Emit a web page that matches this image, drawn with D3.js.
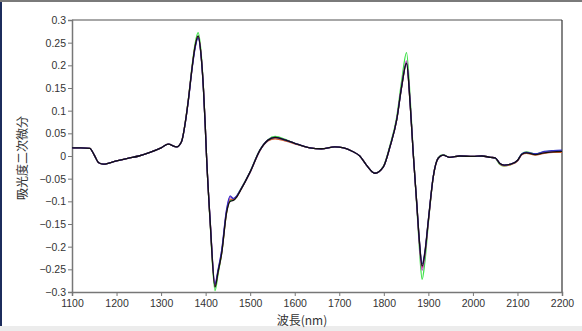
<!DOCTYPE html>
<html>
<head>
<meta charset="utf-8">
<script src="https://cdn.jsdelivr.net/npm/d3@7"></script>
<style>
  html, body { margin: 0; padding: 0; background: #fff; }
  body { width: 582px; height: 331px; overflow: hidden; position: relative; }
  .frame-left { position: absolute; left: 0; top: 0; width: 2px; height: 331px; background: #1c2c5c; }
  .frame-top { position: absolute; left: 0; top: 0; width: 582px; height: 2px; background: #7a7a7a; }
  .frame-bottom { position: absolute; left: 0; top: 326px; width: 582px; height: 5px; background: #ececec; }
  svg text { font-family: "Liberation Sans Narrow", "Liberation Sans", Arial, sans-serif; fill: #333; }
</style>
</head>
<body>
<div class="frame-left"></div>
<div class="frame-top"></div>
<div class="frame-bottom"></div>
<div class="chart"></div>
<script>
// wavelength (nm)
const wavelengths = [1100,1120,1140,1150,1160, 1170,1185,1200,1225,1250, 1275,1300,1316,1335,1346,
  1354,1362,1369,1376,1383, 1390,1395,1399,1402,1410, 1421,1428,1436,1447,1455,
  1462,1470,1477,1500,1522, 1540,1556,1580,1600,1634, 1660,1690,1710,1730,1746,
  1761,1780,1799,1814,1829, 1840,1851,1859,1866,1874, 1880,1886,1892,1900,1911,
  1922,1933,1948,1970,2000, 2020,2040,2050,2060,2070, 2085,2100,2110,2120,2140,
  2160,2180,2200];

// second derivative spectra, one array per sample
const sampleGreen = [0.018,0.018,0.017,0.002,-0.015, -0.018,-0.015,-0.011,-0.005,0.0,
  0.008,0.018,0.026,0.02,0.032, 0.073,0.132,0.194,0.245,0.272,
  0.226,0.152,0.07,0.0,-0.145, -0.297,-0.26,-0.214,-0.124,-0.098,
  -0.097,-0.088,-0.076,-0.034,0.014, 0.036,0.043,0.036,0.028,0.018,
  0.016,0.02,0.018,0.01,0.0, -0.02,-0.038,-0.023,0.024,0.086,
  0.165,0.228,0.13,0.01,-0.11, -0.205,-0.272,-0.235,-0.148,-0.046,
  -0.004,0.003,-0.003,0.0,-0.001, 0.0,-0.003,-0.005,-0.018,-0.022,
  -0.019,-0.01,0.005,0.009,0.005, 0.009,0.011,0.012];
const sampleRed = [0.018,0.018,0.017,0.002,-0.015, -0.018,-0.015,-0.011,-0.005,0.0,
  0.008,0.018,0.026,0.02,0.032, 0.072,0.13,0.19,0.24,0.264,
  0.22,0.15,0.07,0.0,-0.142, -0.287,-0.255,-0.214,-0.125,-0.095,
  -0.096,-0.09,-0.078,-0.036,0.012, 0.033,0.038,0.033,0.027,0.018,
  0.016,0.02,0.018,0.01,0.0, -0.02,-0.038,-0.024,0.021,0.08,
  0.152,0.204,0.116,0.006,-0.105, -0.19,-0.246,-0.217,-0.143,-0.046,
  -0.005,0.002,-0.003,0.0,-0.001, 0.0,-0.003,-0.004,-0.017,-0.022,
  -0.019,-0.011,0.003,0.006,0.002, 0.006,0.008,0.008];
const sampleMagenta = [0.018,0.018,0.017,0.002,-0.015, -0.018,-0.015,-0.011,-0.005,0.0,
  0.008,0.018,0.026,0.02,0.032, 0.072,0.13,0.19,0.238,0.262,
  0.22,0.15,0.07,0.0,-0.14, -0.284,-0.253,-0.21,-0.12,-0.09,
  -0.094,-0.088,-0.077,-0.035,0.013, 0.035,0.041,0.035,0.028,0.018,
  0.016,0.02,0.018,0.01,0.0, -0.02,-0.038,-0.024,0.021,0.081,
  0.155,0.21,0.12,0.006,-0.108, -0.195,-0.252,-0.22,-0.144,-0.046,
  -0.005,0.002,-0.003,0.0,-0.001, 0.0,-0.003,-0.004,-0.016,-0.02,
  -0.018,-0.01,0.004,0.008,0.004, 0.008,0.01,0.011];
const sampleBlue = [0.018,0.018,0.017,0.002,-0.015, -0.018,-0.015,-0.011,-0.005,0.0,
  0.008,0.018,0.026,0.02,0.032, 0.071,0.128,0.188,0.236,0.26,
  0.218,0.148,0.068,0.0,-0.14, -0.282,-0.25,-0.208,-0.118,-0.088,
  -0.094,-0.088,-0.077,-0.035,0.013, 0.035,0.041,0.035,0.028,0.018,
  0.016,0.02,0.018,0.01,0.0, -0.02,-0.038,-0.024,0.021,0.08,
  0.152,0.205,0.117,0.006,-0.104, -0.188,-0.238,-0.212,-0.14,-0.045,
  -0.005,0.002,-0.003,0.0,-0.001, 0.0,-0.003,-0.004,-0.016,-0.02,
  -0.018,-0.01,0.005,0.008,0.005, 0.01,0.012,0.013];
const sampleBlack = [0.018,0.018,0.017,0.002,-0.015, -0.018,-0.015,-0.011,-0.005,0.0,
  0.008,0.018,0.026,0.02,0.032, 0.072,0.13,0.19,0.24,0.265,
  0.22,0.15,0.07,0.0,-0.142, -0.289,-0.255,-0.215,-0.125,-0.1,
  -0.098,-0.09,-0.078,-0.035,0.013, 0.035,0.041,0.035,0.028,0.018,
  0.016,0.02,0.018,0.01,0.0, -0.02,-0.038,-0.024,0.021,0.08,
  0.153,0.205,0.117,0.006,-0.105, -0.19,-0.243,-0.215,-0.142,-0.046,
  -0.005,0.002,-0.003,0.0,-0.001, 0.0,-0.003,-0.004,-0.016,-0.02,
  -0.018,-0.01,0.004,0.007,0.003, 0.007,0.009,0.01];

const seriesList = [sampleGreen, sampleRed, sampleMagenta, sampleBlue, sampleBlack];
const seriesColors = ['#3ee048', '#d0602c', '#c040c8', '#3434c8', '#111111'];

const xTicks = [1100,1200,1300,1400,1500,1600,1700,1800,1900,2000,2100,2200];
const yTicks = [-0.3,-0.25,-0.2,-0.15,-0.1,-0.05,0,0.05,0.1,0.15,0.2,0.25,0.3];
const xTitle = '波長(nm)';
const yTitle = '吸光度二次微分';

const width = 582, height = 331;
const margin = {left: 72, right: 20, top: 20, bottom: 39};

let svg = d3.select(".chart").append("svg")
  .attr("width", width)
  .attr("height", height)
  .style("position", "absolute").style("left", 0).style("top", 0);

let x = d3.scaleLinear().domain([1100, 2200]).range([margin.left, width - margin.right]);
let y = d3.scaleLinear().domain([-0.3, 0.3]).range([height - margin.bottom, margin.top]);

// plot box: top + right border
svg.append("line")
  .attr("x1", x(1100)).attr("x2", x(2200))
  .attr("y1", y(0.3)).attr("y2", y(0.3))
  .attr("stroke", "#8a8a8a").attr("stroke-width", 1.5);
svg.append("line")
  .attr("x1", x(2200)).attr("x2", x(2200))
  .attr("y1", y(0.3)).attr("y2", y(-0.3))
  .attr("stroke", "#333").attr("stroke-width", 1.2);

let xAxis = svg.append("g")
  .attr("transform", `translate(0,${y(-0.3)})`)
  .call(d3.axisBottom(x).tickValues(xTicks).tickSize(4).tickPadding(4).tickFormat(d3.format("d")));
let yAxis = svg.append("g")
  .attr("transform", `translate(${x(1100)},0)`)
  .call(d3.axisLeft(y).tickValues(yTicks).tickSize(4).tickPadding(2).tickFormat(d => d === 0 ? "0" : String(d).replace("-", "\u2212")));

[xAxis, yAxis].forEach(a => {
  a.select(".domain").attr("stroke", "#777").attr("stroke-width", 1.5);
  a.selectAll(".tick line").attr("stroke", "#777");
  a.selectAll(".tick text").attr("font-size", 10.5).attr("fill", "#333")
    .style("font-family", '"Liberation Sans Narrow", "Liberation Sans", Arial, sans-serif');
});

let line = d3.line()
  .x((d, i) => x(wavelengths[i]))
  .y(d => y(d))
  .curve(d3.curveMonotoneX);

svg.append("g")
  .selectAll("path")
  .data(seriesList)
  .join("path")
  .attr("d", d => line(d))
  .attr("fill", "none")
  .attr("stroke", (_, i) => seriesColors[i])
  .attr("stroke-width", 1.3)
  .attr("stroke-linejoin", "round");

svg.append("text")
  .attr("x", 302).attr("y", 325)
  .attr("text-anchor", "middle")
  .attr("font-size", 12)
  .style("font-family", '"Noto Sans CJK JP", sans-serif')
  .text(xTitle);

svg.append("text")
  .attr("transform", `translate(27,158) rotate(-90)`)
  .attr("text-anchor", "middle")
  .attr("font-size", 12)
  .style("font-family", '"Noto Sans CJK JP", sans-serif')
  .text(yTitle);
</script>
</body>
</html>
